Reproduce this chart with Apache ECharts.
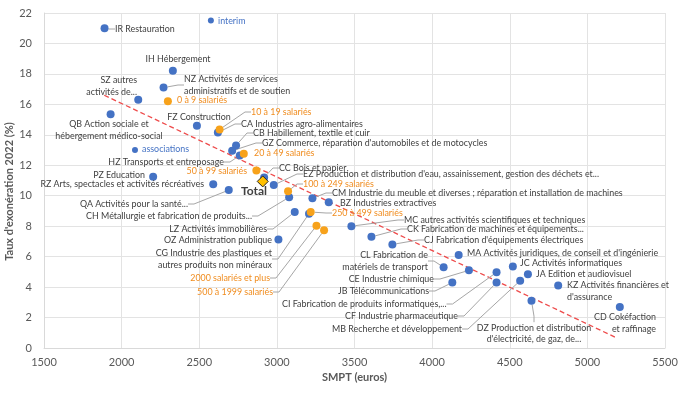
<!DOCTYPE html>
<html>
<head>
<meta charset="utf-8">
<script src="https://cdn.jsdelivr.net/npm/echarts@6/dist/echarts.min.js"></script>
<style>html,body{margin:0;padding:0;background:#fff}#c{width:680px;height:393px}</style>
</head>
<body>
<div id="c"></div>
<script>
// ---- Data ----
const sectorNames = [
  "IR Restauration", "IH Hébergement", "NZ Activités de services\nadministratifs et de soutien",
  "SZ autres\nactivités de...", "QB Action sociale et\nhébergement médico-social", "FZ Construction",
  "CA Industries agro-alimentaires", "CB Habillement, textile et cuir",
  "GZ Commerce, réparation d'automobiles et de motocycles", "HZ Transports et entreposage",
  "PZ Education", "CC Bois et papier",
  "EZ Production et distribution d'eau, assainissement, gestion des déchets et...",
  "RZ Arts, spectacles et activités récréatives", "QA Activités pour la santé...",
  "CH Métallurgie et fabrication de produits...",
  "CM Industrie du meuble et diverses ; réparation et installation de machines",
  "BZ Industries extractives", "LZ Activités immobilières",
  "CG Industrie des plastiques et\nautres produits non minéraux", "OZ Administration publique",
  "MC autres activités scientifiques et techniques", "CK Fabrication de machines et équipements...",
  "CJ Fabrication d'équipements électriques", "MA Activités juridiques, de conseil et d'ingénierie",
  "CL Fabrication de\nmatériels de transport", "CE Industrie chimique", "JB Télécommunications",
  "CI Fabrication de produits informatiques,...", "CF Industrie pharmaceutique",
  "MB Recherche et développement", "JC Activités informatiques", "JA Edition et audiovisuel",
  "KZ Activités financières et\nd'assurance", "DZ Production et distribution\nd'électricité, de gaz, de...",
  "CD Cokéfaction\net raffinage"
];
const sectorSMPT = [1890, 2330, 2270, 2107, 1929, 2485, 2620, 2737, 2712, 2761, 2203, 2918, 2980, 2590, 2690, 3079, 3229, 3334, 3115, 3207, 3010, 3480, 3609, 3744, 4171, 4074, 4237, 4130, 4415, 4415, 4567, 4520, 4617, 4812, 4640, 5209];
const sectorRate = [21.0, 18.2, 17.1, 16.3, 15.35, 14.6, 14.15, 13.3, 12.95, 12.65, 11.25, 11.2, 10.7, 10.75, 10.37, 9.9, 9.83, 9.57, 8.93, 8.82, 7.13, 8.0, 7.3, 6.8, 6.1, 5.3, 5.1, 4.3, 4.97, 4.3, 4.42, 5.35, 4.85, 4.1, 3.1, 2.7];

const otherNames = ["interim", "associations"];
const otherSMPT = [2575, 2086];
const otherRate = [21.5, 13.0];

const sizeNames = ["0 à 9 salariés", "10 à 19 salariés", "20 à 49 salariés", "50 à 99 salariés",
  "100 à 249 salariés", "250 à 499 salariés", "500 à 1999 salariés", "2000 salariés et plus"];
const sizeSMPT = [2298, 2631, 2787, 2868, 3072, 3218, 3304, 3255];
const sizeRate = [16.2, 14.35, 12.75, 11.65, 10.3, 8.93, 7.73, 8.03];

const totalNames = ["Total"];
const totalSMPT = [2909];
const totalRate = [10.94];

const trendSMPT = [1888, 5181];
const trendRate = [16.6, 0.7];

// ---- Label layout (pixel positions of the data labels, separate from data) ----
const L = (x, y, a, line) => ({x, y, a, line});
const sectorLabelPos = [
  L(115,29,'left',true), L(178,59,'center',false), L(184,85,'left',true),
  L(137,86,'right',false), L(109,130,'center',false), L(199,117,'center',false),
  L(241,124,'left',true), L(253,133,'left',true), L(262,143,'left',true), L(224,162,'right',true),
  L(145,175,'right',false), L(279,168,'left',true), L(303,174,'left',true),
  L(204,184.5,'right',false), L(188,204,'right',true), L(252,216,'right',true),
  L(332,193,'left',true), L(340,203,'left',false), L(267,229,'right',true),
  L(272,259,'right',true), L(272,240,'right',false),
  L(404,220,'left',true), L(407,229,'left',true), L(424,240,'left',true), L(467,253,'left',false),
  L(428,261,'right',true), L(434,279,'right',true), L(429,291,'right',true),
  L(282,304,'left',true), L(458,316,'right',true), L(462,329,'right',true),
  L(520,263,'left',false), L(536,274,'left',false), L(567,291,'left',false),
  L(534,333.5,'center',true), L(656,323,'right',false)
];
const otherLabelPos = [L(218,21,'left',false), L(142,149,'left',false)];
const sizeLabelPos = [
  L(177,100,'left',false), L(251,112,'left',true), L(254,153,'left',false), L(247,171,'right',false),
  L(303,184,'left',true), L(332,213,'left',true), L(273,292,'right',true), L(270,278,'right',true)
];
const totalLabelPos = [L(254,191,'center',false)];

const FONT = 'Lato';
const FS = 8.9;
const labelPositions = {sector: sectorLabelPos, other: otherLabelPos, size: sizeLabelPos, total: totalLabelPos};

function build(names, xs, ys, pos) {
  return names.map((n, i) => ({
    name: n, value: [xs[i], ys[i]],
    labelLine: {show: pos[i].line}
  }));
}
function layoutFor(key) {
  return function (params) {
    const p = labelPositions[key][params.dataIndex];
    return {x: p.x, y: p.y, align: p.a, verticalAlign: 'middle'};
  };
}
const leader = {show: true, length2: 6, lineStyle: {color: '#A6A6A6', width: 1}};

const chart = echarts.init(document.getElementById('c'), null, {renderer: 'canvas'});
chart.setOption({
  animation: false,
  backgroundColor: '#fff',
  grid: {left: 44, right: 15, top: 13, bottom: 45, containLabel: false, outerBoundsMode: 'none'},
  xAxis: {
    type: 'value', min: 1500, max: 5500, interval: 500,
    name: 'SMPT (euros)', nameLocation: 'middle', nameGap: 24, nameMoveOverlap: false,
    nameTextStyle: {fontFamily: FONT, fontSize: 11, fontWeight: 'bold', color: '#595959'},
    axisLine: {show: true, lineStyle: {color: '#D9D9D9'}},
    axisTick: {show: false},
    axisLabel: {fontFamily: FONT, fontSize: 11, color: '#595959', margin: 9, formatter: v => String(v)},
    splitLine: {show: true, lineStyle: {color: '#E3E3E3'}}
  },
  yAxis: {
    type: 'value', min: 0, max: 22, interval: 2,
    name: "Taux d'exonération 2022 (%)", nameLocation: 'middle', nameGap: 29, nameMoveOverlap: false,
    nameTextStyle: {fontFamily: FONT, fontSize: 11, fontWeight: 'bold', color: '#595959', padding: [0, 22, 0, 0]},
    axisLine: {show: true, lineStyle: {color: '#D9D9D9'}},
    axisTick: {show: false},
    axisLabel: {fontFamily: FONT, fontSize: 11, color: '#595959', margin: 12},
    splitLine: {show: true, lineStyle: {color: '#E3E3E3'}}
  },
  series: [
    {
      type: 'line', data: trendSMPT.map((x, i) => [x, trendRate[i]]),
      showSymbol: false, symbol: 'none', z: 1,
      lineStyle: {color: '#EE4B4B', width: 1.3, type: [5, 3]}
    },
    {
      type: 'scatter', data: build(sectorNames, sectorSMPT, sectorRate, sectorLabelPos),
      symbolSize: 8, itemStyle: {color: '#4472C4', opacity: 1}, z: 3,
      label: {show: true, formatter: '{b}', fontFamily: FONT, fontSize: FS, color: '#404040', lineHeight: 11.3},
      labelLine: leader, labelLayout: layoutFor('sector')
    },
    {
      type: 'scatter', data: build(otherNames, otherSMPT, otherRate, otherLabelPos),
      symbolSize: 6, itemStyle: {color: '#4472C4', opacity: 1}, z: 3,
      label: {show: true, formatter: '{b}', fontFamily: FONT, fontSize: FS, color: '#4472C4'},
      labelLine: leader, labelLayout: layoutFor('other')
    },
    {
      type: 'scatter', data: build(sizeNames, sizeSMPT, sizeRate, sizeLabelPos),
      symbolSize: 8, itemStyle: {color: '#F7A21B', opacity: 1}, z: 4,
      label: {show: true, formatter: '{b}', fontFamily: FONT, fontSize: FS, color: '#F08C1E'},
      labelLine: leader, labelLayout: layoutFor('size')
    },
    {
      type: 'scatter', data: build(totalNames, totalSMPT, totalRate, totalLabelPos),
      symbol: 'diamond', symbolSize: 11,
      itemStyle: {color: '#FFC000', borderColor: '#262626', borderWidth: 1, opacity: 1}, z: 5,
      label: {show: true, formatter: '{b}', fontFamily: FONT, fontSize: 12, fontWeight: 'bold', color: '#404040'},
      labelLayout: layoutFor('total')
    }
  ]
});
</script>
</body>
</html>
